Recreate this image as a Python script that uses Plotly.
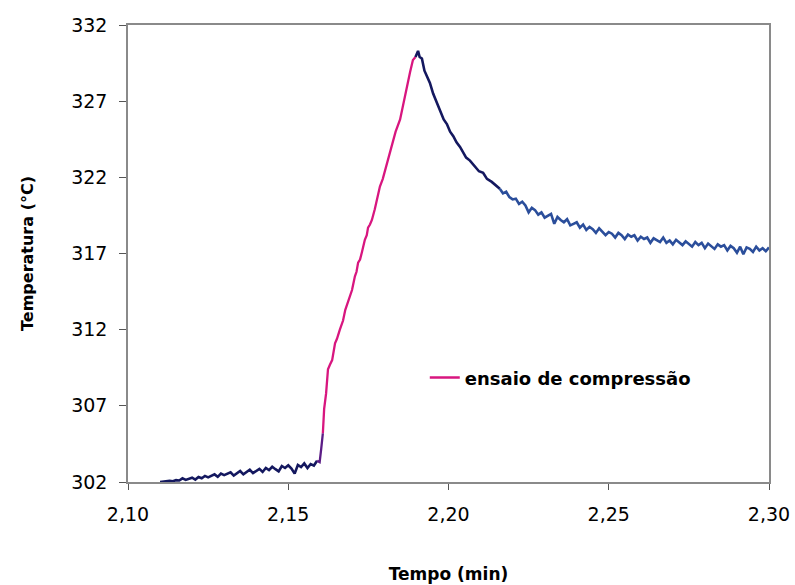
import plotly.graph_objects as go

# --- data (time in min, temperature in °C) ---
base_t = [2.110, 2.111, 2.112, 2.113, 2.114, 2.115, 2.116, 2.117, 2.118, 2.119,
          2.120, 2.121, 2.122, 2.123, 2.124, 2.125, 2.126, 2.127, 2.128, 2.129,
          2.130, 2.131, 2.132, 2.133, 2.134, 2.135, 2.136, 2.137, 2.138, 2.139,
          2.140, 2.141, 2.142, 2.143, 2.144, 2.145, 2.146, 2.147, 2.148, 2.149,
          2.150, 2.151, 2.152, 2.153, 2.154, 2.155, 2.156, 2.157, 2.158, 2.159]
base_T = [302.00, 302.03, 302.02, 302.08, 302.05, 302.12, 302.10, 302.24, 302.14, 302.20,
          302.28, 302.16, 302.33, 302.25, 302.40, 302.30, 302.38, 302.50, 302.34, 302.55,
          302.45, 302.52, 302.64, 302.42, 302.60, 302.72, 302.50, 302.66, 302.80, 302.58,
          302.74, 302.86, 302.66, 302.92, 302.78, 303.00, 302.84, 302.70, 303.05, 302.92,
          303.10, 302.88, 302.55, 303.12, 302.98, 303.22, 302.92, 303.18, 303.08, 303.40]

trans_t = [2.1590, 2.1598, 2.1603, 2.1608]
trans_T = [303.40, 303.30, 304.20, 305.20]

rise_t = [2.1608, 2.1612, 2.1618, 2.1624, 2.1630, 2.1637, 2.1646, 2.1652, 2.1661, 2.1671,
          2.1678, 2.1686, 2.1693, 2.1699, 2.1708, 2.1713, 2.1718, 2.1724, 2.1730, 2.1739,
          2.1745, 2.1749, 2.1755, 2.1761, 2.1770, 2.1778, 2.1786, 2.1795, 2.1805, 2.1817,
          2.1826, 2.1835, 2.1849, 2.1857, 2.1864, 2.1871, 2.1880, 2.1889, 2.1897]
rise_T = [305.2, 306.8, 307.8, 309.4, 309.7, 310.0, 311.1, 311.4, 312.0, 312.6,
          313.3, 313.8, 314.1, 314.6, 315.5, 315.8, 316.4, 316.6, 317.1, 317.9,
          318.2, 318.7, 318.9, 319.2, 319.9, 320.6, 321.4, 321.9, 322.7, 323.6,
          324.2, 325.0, 325.8, 326.6, 327.3, 328.2, 328.9, 329.7, 329.9]

peak_t = [2.1897, 2.1905, 2.1910, 2.1917, 2.1925, 2.1933, 2.1942, 2.1952, 2.1960, 2.1973,
          2.1985, 2.1995, 2.2005, 2.2015, 2.2025, 2.2036, 2.2045, 2.2055, 2.2067, 2.2080,
          2.2095, 2.2108, 2.2120, 2.2135, 2.2151, 2.2160]
peak_T = [329.9, 330.3, 329.9, 329.8, 329.0, 328.6, 328.2, 327.5, 327.1, 326.5,
          325.8, 325.5, 325.0, 324.7, 324.3, 324.0, 323.7, 323.3, 323.1, 322.8,
          322.4, 322.3, 321.9, 321.7, 321.4, 321.25]

tail_t = [2.216, 2.217, 2.218, 2.219, 2.220, 2.221, 2.222, 2.223, 2.224, 2.225,
          2.226, 2.227, 2.228, 2.229, 2.230, 2.231, 2.232, 2.233, 2.234, 2.235,
          2.236, 2.237, 2.238, 2.239, 2.240, 2.241, 2.242, 2.243, 2.244, 2.245,
          2.246, 2.247, 2.248, 2.249, 2.250, 2.251, 2.252, 2.253, 2.254, 2.255,
          2.256, 2.257, 2.258, 2.259, 2.260, 2.261, 2.262, 2.263, 2.264, 2.265,
          2.266, 2.267, 2.268, 2.269, 2.270, 2.271, 2.272, 2.273, 2.274, 2.275,
          2.276, 2.277, 2.278, 2.279, 2.280, 2.281, 2.282, 2.283, 2.284, 2.285,
          2.286, 2.287, 2.288, 2.289, 2.290, 2.291, 2.292, 2.293, 2.294, 2.295,
          2.296, 2.297, 2.298, 2.299, 2.300]
tail_T = [321.25, 320.95, 321.05, 320.70, 320.55, 320.60, 320.25, 320.40, 320.15, 319.70,
          320.00, 319.85, 319.55, 319.70, 319.35, 319.45, 319.60, 318.95, 319.40, 319.20,
          319.05, 319.25, 318.85, 318.95, 319.05, 318.70, 318.90, 318.55, 318.75, 318.60,
          318.35, 318.65, 318.45, 318.20, 318.40, 318.30, 318.05, 318.35, 318.20, 317.95,
          318.25, 318.10, 318.20, 317.85, 318.10, 317.95, 318.05, 317.70, 318.00, 317.90,
          317.75, 318.05, 317.70, 317.85, 317.60, 317.90, 317.75, 317.55, 317.80, 317.60,
          317.45, 317.75, 317.55, 317.70, 317.35, 317.65, 317.50, 317.30, 317.60, 317.45,
          317.55, 317.20, 317.50, 317.35, 317.05, 317.45, 316.95, 317.40, 317.30, 317.10,
          317.45, 317.20, 317.35, 317.15, 317.40]

x_ticks = [2.10, 2.15, 2.20, 2.25, 2.30]
x_labels = ["2,10", "2,15", "2,20", "2,25", "2,30"]
y_ticks = [302, 307, 312, 317, 322, 327, 332]

NAVY = "#14185f"
PURPLE = "#5b1c86"
MAGENTA = "#d8167f"
BLUE = "#2b4e9b"

fig = go.Figure()
fig.add_trace(go.Scatter(x=base_t, y=base_T, mode="lines",
                         line=dict(color=NAVY, width=2.6), showlegend=False))
fig.add_trace(go.Scatter(x=trans_t, y=trans_T, mode="lines",
                         line=dict(color=PURPLE, width=2.3), showlegend=False))
fig.add_trace(go.Scatter(x=rise_t, y=rise_T, mode="lines",
                         line=dict(color=MAGENTA, width=2.3),
                         name="ensaio de compressão", showlegend=True))
fig.add_trace(go.Scatter(x=peak_t, y=peak_T, mode="lines",
                         line=dict(color=NAVY, width=2.6), showlegend=False))
fig.add_trace(go.Scatter(x=tail_t, y=tail_T, mode="lines",
                         line=dict(color=BLUE, width=2.6), showlegend=False))

font_family = "DejaVu Sans, Arial, sans-serif"

fig.update_layout(
    width=795, height=585,
    margin=dict(l=128, r=26, t=25, b=103),
    paper_bgcolor="white", plot_bgcolor="white",
    font=dict(family=font_family, color="black", size=18),
    legend=dict(x=0.463, y=0.228, xanchor="left", yanchor="middle",
                bgcolor="rgba(0,0,0,0)", borderwidth=0,
                font=dict(family=font_family, size=18, color="black", weight="bold")),
    xaxis=dict(range=[2.10, 2.30], tickvals=x_ticks, ticktext=x_labels,
               automargin=False,
               showgrid=False, zeroline=False, showline=True, mirror=True,
               linecolor="#8a8a8a", linewidth=1.5, ticks="outside", ticklen=6,
               tickcolor="#555555", ticklabelstandoff=8,
               tickfont=dict(size=19),
               title=dict(text="Tempo (min)", standoff=45,
                          font=dict(size=17, weight="bold"))),
    yaxis=dict(range=[302, 332], tickvals=y_ticks,
               automargin=False,
               showgrid=False, zeroline=False, showline=True, mirror=True,
               linecolor="#8a8a8a", linewidth=1.5, ticks="outside", ticklen=7,
               tickcolor="#555555", ticklabelstandoff=8,
               tickfont=dict(size=19),
               title=dict(text="Temperatura (°C)", standoff=34,
                          font=dict(size=16, weight="bold"))),
)

fig.write_html("out.html")
